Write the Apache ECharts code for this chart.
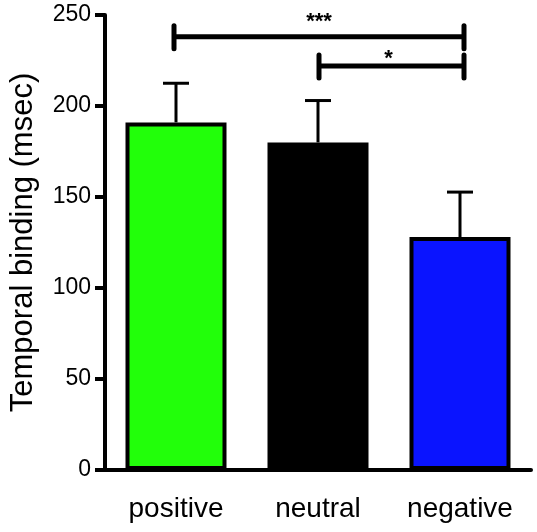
<!DOCTYPE html>
<html><head><meta charset="utf-8">
<script src="https://cdn.jsdelivr.net/npm/echarts@6/dist/echarts.min.js"></script>
<style>html,body{margin:0;padding:0;background:#fff}#c{width:537px;height:532px}</style>
</head><body><div id="c"></div>
<script>
const categories = ['positive', 'neutral', 'negative'];
const means = [191, 180, 128];
const errorUpper = [212.5, 203, 152.7];
const barColors = ['#22ff0a', '#000000', '#0a14ff'];
const yTicks = [0, 50, 100, 150, 200, 250];
// brackets: [fromCategoryIndex, toCategoryIndex, yValue, label]
const brackets = [[0, 2, 238, '***'], [1, 2, 222, '*']];

const chart = echarts.init(document.getElementById('c'), null, {renderer: 'canvas'});
const font = 'Liberation Sans, Arial, sans-serif';
const labelGap = [4, -4];
chart.setOption({
  animation: false,
  grid: {left: 102, right: 6, top: 15, bottom: 62},
  xAxis: {
    type: 'category', data: categories,
    axisLine: {lineStyle: {color: '#000', width: 4}},
    axisTick: {alignWithLabel: true, length: 9, lineStyle: {color: '#000', width: 4}},
    axisLabel: {color: '#000', fontSize: 28, fontFamily: font, margin: 25}
  },
  yAxis: {
    type: 'value', min: yTicks[0], max: yTicks[yTicks.length - 1], interval: 50,
    name: 'Temporal binding (msec)', nameLocation: 'middle', nameGap: 66,
    nameTextStyle: {color: '#000', fontSize: 31, fontFamily: font},
    splitLine: {show: false},
    axisLine: {show: true, lineStyle: {color: '#000', width: 4}},
    axisTick: {show: true, length: 10, lineStyle: {color: '#000', width: 4}},
    axisLabel: {color: '#000', fontSize: 23, fontFamily: font, margin: 14}
  },
  series: [
    {
      type: 'bar', barWidth: 101,
      data: means.map((v, i) => ({value: v, itemStyle: {color: barColors[i]}})),
      itemStyle: {borderColor: '#000', borderWidth: 4},
      z: 2
    },
    {
      type: 'custom', z: 1,
      data: errorUpper.map((u, i) => [i, means[i], u]),
      renderItem: function (params, api) {
        const top = api.coord([api.value(0), api.value(2)]);
        const base = api.coord([api.value(0), api.value(1)]);
        const hw = 13;
        return {type: 'group', children: [
          {type: 'line', shape: {x1: top[0], y1: top[1], x2: base[0], y2: base[1]}, style: {stroke: '#000', lineWidth: 3}},
          {type: 'line', shape: {x1: top[0] - hw, y1: top[1], x2: top[0] + hw, y2: top[1]}, style: {stroke: '#000', lineWidth: 3}}
        ]};
      }
    },
    {
      type: 'custom', z: 3,
      data: brackets,
      renderItem: function (params, api) {
        const a = api.coord([api.value(0), api.value(2)]);
        const b = api.coord([api.value(1), api.value(2)]);
        const x1 = a[0] - 2 + params.dataIndex * 3, x2 = b[0] + 4, y = a[1];
        const lbl = brackets[params.dataIndex][3];
        const cx = params.dataIndex === 0 ? (x1 + x2) / 2 : (x1 + x2) / 2 - 3;
        return {type: 'group', children: [
          {type: 'line', shape: {x1: x1, y1: y, x2: x2, y2: y}, style: {stroke: '#000', lineWidth: 5}},
          {type: 'line', shape: {x1: x1, y1: y - 11, x2: x1, y2: y + 12}, style: {stroke: '#000', lineWidth: 5, lineCap: 'round'}},
          {type: 'line', shape: {x1: x2, y1: y - 11, x2: x2, y2: y + 12}, style: {stroke: '#000', lineWidth: 5, lineCap: 'round'}},
          {type: 'text', style: {text: lbl, x: cx, y: y - labelGap[params.dataIndex], align: 'center', verticalAlign: 'bottom', fill: '#000', font: 'bold 22px ' + font}}
        ]};
      }
    }
  ]
});
</script></body></html>
